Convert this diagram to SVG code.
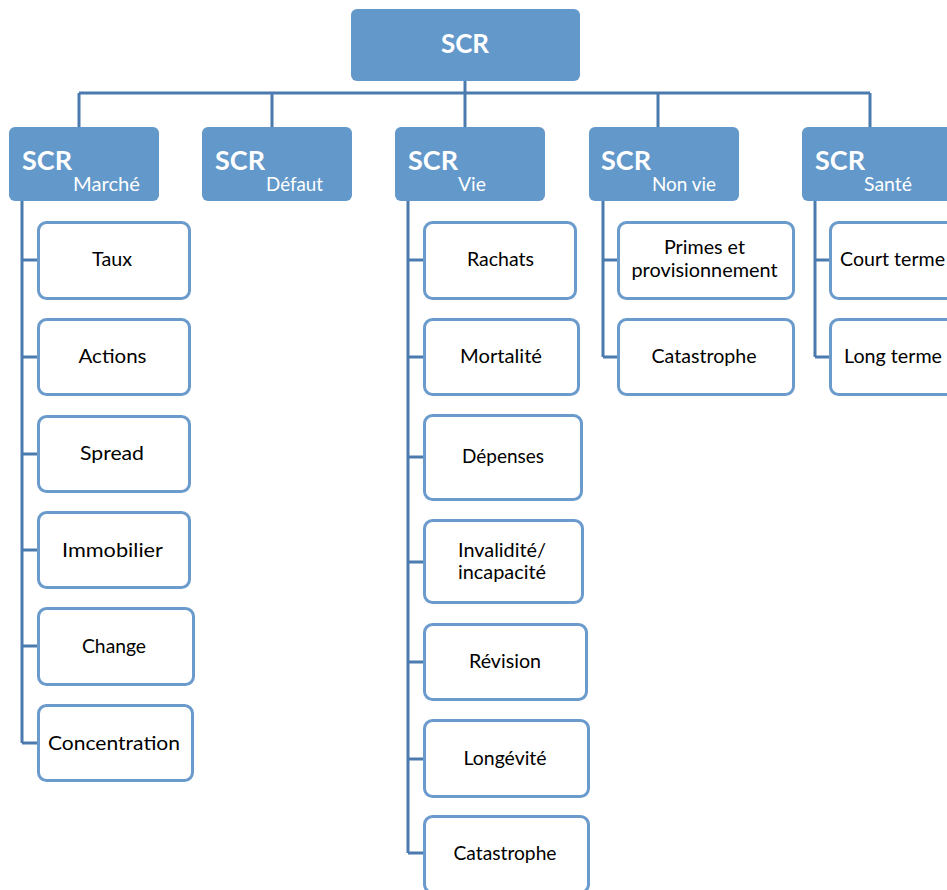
<svg xmlns="http://www.w3.org/2000/svg" width="947" height="890" viewBox="0 0 947 890">
<style>
.hd{fill:#6298CA;}
.ch{fill:#FFFFFF;stroke:#6A9BCC;stroke-width:3;}
.cn{stroke:#4B7AAE;stroke-width:3;fill:none;}
.t1{font-family:Lato,"Liberation Sans",sans-serif;font-weight:bold;fill:#FFFFFF;}
.t2{font-family:Lato,"Liberation Sans",sans-serif;fill:#FFFFFF;font-size:19px;}
.tc{font-family:Lato,"Liberation Sans",sans-serif;fill:#000000;font-size:20px;text-anchor:middle;}
</style>
<rect width="947" height="890" fill="#FFFFFF"/>
<g id="connectors">
<path class="cn" d="M465 81V127M79 93H870M79 93V127M272 93V127M658 93V127M870 93V127"/>
<path class="cn" d="M22 201V743M22 260H38M22 357H38M22 454H38M22 550H38M22 646H38M22 743H38"/>
<path class="cn" d="M408 201V853M408 260H424M408 357H424M408 457H424M408 562H424M408 662H424M408 759H424M408 853H424"/>
<path class="cn" d="M603 201V357M603 260H618M603 357H618"/>
<path class="cn" d="M815 201V357M815 260H830M815 357H830"/>
</g>
<g id="scr"><rect class="hd" x="351" y="9" width="229" height="72" rx="6"/><text class="t1" x="465" y="53" font-size="26" text-anchor="middle">SCR</text></g>
<g id="marche"><rect class="hd" x="9" y="127" width="150" height="74" rx="6"/><text class="t1" x="22" y="170" font-size="27">SCR</text><text class="t2" x="73" y="191" textLength="67" lengthAdjust="spacingAndGlyphs">Marché</text></g>
<g id="defaut"><rect class="hd" x="202" y="127" width="150" height="74" rx="6"/><text class="t1" x="215" y="170" font-size="27">SCR</text><text class="t2" x="266" y="191" textLength="57" lengthAdjust="spacingAndGlyphs">Défaut</text></g>
<g id="vie"><rect class="hd" x="395" y="127" width="150" height="74" rx="6"/><text class="t1" x="408" y="170" font-size="27">SCR</text><text class="t2" x="458" y="191" textLength="28" lengthAdjust="spacingAndGlyphs">Vie</text></g>
<g id="nonvie"><rect class="hd" x="589" y="127" width="150" height="74" rx="6"/><text class="t1" x="601" y="170" font-size="27">SCR</text><text class="t2" x="652" y="191" textLength="64" lengthAdjust="spacingAndGlyphs">Non vie</text></g>
<g id="sante"><rect class="hd" x="802" y="127" width="160" height="74" rx="6"/><text class="t1" x="815" y="170" font-size="27">SCR</text><text class="t2" x="864" y="191" textLength="48" lengthAdjust="spacingAndGlyphs">Santé</text></g>

<g id="taux"><rect class="ch" x="38.5" y="222.5" width="151" height="76" rx="8"/><text class="tc" x="112" y="266" textLength="40" lengthAdjust="spacingAndGlyphs">Taux</text></g>
<g id="actions"><rect class="ch" x="38.5" y="319.5" width="151" height="75" rx="8"/><text class="tc" x="112.5" y="363" textLength="68" lengthAdjust="spacingAndGlyphs">Actions</text></g>
<g id="spread"><rect class="ch" x="38.5" y="416.5" width="151" height="75" rx="8"/><text class="tc" x="112" y="460" textLength="64" lengthAdjust="spacingAndGlyphs">Spread</text></g>
<g id="immobilier"><rect class="ch" x="38.5" y="512.5" width="151" height="75" rx="8"/><text class="tc" x="112.5" y="556.5" textLength="101" lengthAdjust="spacingAndGlyphs">Immobilier</text></g>
<g id="change"><rect class="ch" x="38.5" y="608.5" width="155" height="76" rx="8"/><text class="tc" x="114" y="653" textLength="64" lengthAdjust="spacingAndGlyphs">Change</text></g>
<g id="concentration"><rect class="ch" x="38.5" y="705.5" width="154" height="75" rx="8"/><text class="tc" x="114" y="750" textLength="132" lengthAdjust="spacingAndGlyphs">Concentration</text></g>

<g id="rachats"><rect class="ch" x="424.5" y="222.5" width="151" height="76" rx="8"/><text class="tc" x="500.5" y="266" textLength="67" lengthAdjust="spacingAndGlyphs">Rachats</text></g>
<g id="mortalite"><rect class="ch" x="424.5" y="319.5" width="154" height="75" rx="8"/><text class="tc" x="501" y="363" textLength="82" lengthAdjust="spacingAndGlyphs">Mortalité</text></g>
<g id="depenses"><rect class="ch" x="424.5" y="415.5" width="157" height="84" rx="8"/><text class="tc" x="503" y="463" textLength="82" lengthAdjust="spacingAndGlyphs">Dépenses</text></g>
<g id="invalidite"><rect class="ch" x="424.5" y="520.5" width="158" height="82" rx="8"/><text class="tc" x="502" y="556.5" textLength="88" lengthAdjust="spacingAndGlyphs">Invalidité/</text><text class="tc" x="502" y="579" textLength="88" lengthAdjust="spacingAndGlyphs">incapacité</text></g>
<g id="revision"><rect class="ch" x="424.5" y="624.5" width="162" height="75" rx="8"/><text class="tc" x="505" y="668" textLength="72" lengthAdjust="spacingAndGlyphs">Révision</text></g>
<g id="longevite"><rect class="ch" x="424.5" y="720.5" width="164" height="76" rx="8"/><text class="tc" x="505" y="765" textLength="83" lengthAdjust="spacingAndGlyphs">Longévité</text></g>
<g id="catastrophe-vie"><rect class="ch" x="424.5" y="816.5" width="164" height="76" rx="8"/><text class="tc" x="505" y="860" textLength="103" lengthAdjust="spacingAndGlyphs">Catastrophe</text></g>

<g id="primes"><rect class="ch" x="618.5" y="222.5" width="175" height="76" rx="8"/><text class="tc" x="704.5" y="254" textLength="81" lengthAdjust="spacingAndGlyphs">Primes et</text><text class="tc" x="704.5" y="277" textLength="146" lengthAdjust="spacingAndGlyphs">provisionnement</text></g>
<g id="catastrophe-nv"><rect class="ch" x="618.5" y="319.5" width="175" height="75" rx="8"/><text class="tc" x="704" y="363" textLength="105" lengthAdjust="spacingAndGlyphs">Catastrophe</text></g>

<g id="court"><rect class="ch" x="830.5" y="222.5" width="130" height="76" rx="8"/><text class="tc" x="892.5" y="266" textLength="105" lengthAdjust="spacingAndGlyphs">Court terme</text></g>
<g id="long"><rect class="ch" x="830.5" y="319.5" width="130" height="75" rx="8"/><text class="tc" x="893" y="363" textLength="98" lengthAdjust="spacingAndGlyphs">Long terme</text></g>
</svg>
